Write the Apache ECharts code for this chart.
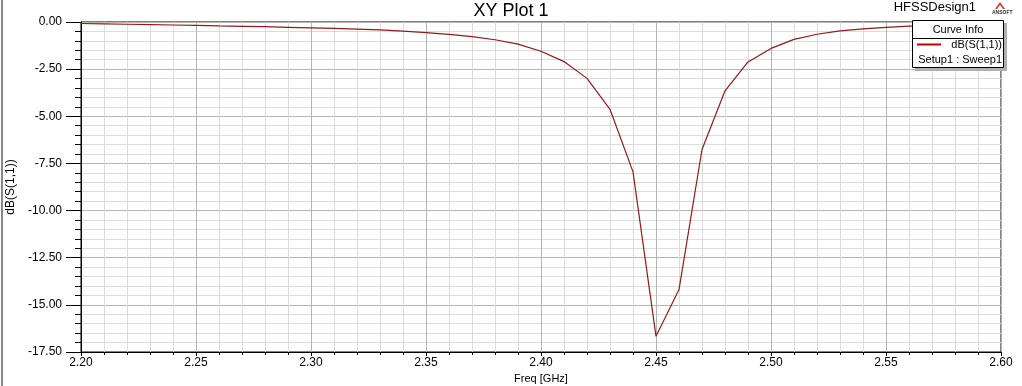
<!DOCTYPE html>
<html><head><meta charset="utf-8">
<script src="https://cdn.jsdelivr.net/npm/echarts@6/dist/echarts.min.js"></script>
<style>html,body{margin:0;padding:0;background:#fff}#c{width:1022px;height:386px}</style>
</head><body><div id="c"></div>
<script>
const freqs = [2.20,2.21,2.22,2.23,2.24,2.25,2.26,2.27,2.28,2.29,2.30,2.31,2.32,2.33,2.34,2.35,2.36,2.37,2.38,2.39,2.40,2.41,2.42,2.43,2.44,2.45,2.46,2.47,2.48,2.49,2.50,2.51,2.52,2.53,2.54,2.55,2.56,2.57,2.58,2.59,2.60];
const s11 = [-0.08,-0.10,-0.12,-0.14,-0.16,-0.18,-0.21,-0.23,-0.25,-0.28,-0.31,-0.34,-0.38,-0.42,-0.48,-0.56,-0.66,-0.78,-0.94,-1.17,-1.55,-2.10,-2.99,-4.63,-7.95,-16.67,-14.19,-6.76,-3.65,-2.12,-1.40,-0.92,-0.65,-0.47,-0.36,-0.28,-0.22,-0.18,-0.15,-0.12,-0.10];
const xTicks = {min: 2.20, max: 2.60, step: 0.05};
const yTicks = {min: -17.5, max: 0, step: 2.5};
const titleText = 'XY Plot 1';
const designText = 'HFSSDesign1';
const seriesName = 'dB(S(1,1))';
const setupText = 'Setup1 : Sweep1';

const FONT = 'Liberation Sans, Arial, sans-serif';
const chart = echarts.init(document.getElementById('c'), null, {renderer: 'canvas'});
const lineColor = '#8e1c1c';
chart.setOption({
  animation: false,
  backgroundColor: '#ffffff',
  title: {text: titleText, left: 'center', top: -3,
    textStyle: {fontFamily: FONT, fontSize: 18, fontWeight: 'normal', color: '#000'}},
  grid: {left: 81, right: 21, top: 22, bottom: 34, show: true, borderColor: '#000', borderWidth: 1,
    backgroundColor: '#fff', containLabel: false, outerBoundsMode: 'none'},
  xAxis: {
    type: 'value', min: xTicks.min, max: xTicks.max, interval: xTicks.step,
    name: 'Freq [GHz]', nameLocation: 'middle', nameGap: 16,
    nameTextStyle: {fontFamily: FONT, fontSize: 11, color: '#000'},
    axisLine: {show: true, onZero: false, lineStyle: {color: '#000', width: 1}},
    axisTick: {show: true, inside: false, length: 4, lineStyle: {color: '#000'}},
    minorTick: {show: true, splitNumber: 5, length: 3, lineStyle: {color: '#000'}},
    axisLabel: {fontFamily: FONT, fontSize: 12, color: '#000', margin: 5,
      formatter: v => v.toFixed(2)},
    splitLine: {show: true, lineStyle: {color: '#b4b4b4', width: 1}},
    minorSplitLine: {show: true, lineStyle: {color: '#dcdcdc', width: 1}}
  },
  yAxis: {
    type: 'value', min: yTicks.min, max: yTicks.max, interval: yTicks.step,
    name: 'dB(S(1,1))', nameLocation: 'middle', nameGap: 63, nameRotate: 90,
    nameTextStyle: {fontFamily: FONT, fontSize: 12, color: '#000'},
    axisLine: {show: true, onZero: false, lineStyle: {color: '#000', width: 1}},
    axisTick: {show: true, inside: false, length: 15, lineStyle: {color: '#000'}},
    minorTick: {show: true, splitNumber: 5, length: 6, lineStyle: {color: '#000'}},
    axisLabel: {fontFamily: FONT, fontSize: 12, color: '#000', margin: 19,
      formatter: v => v.toFixed(2)},
    splitLine: {show: true, lineStyle: {color: '#b4b4b4', width: 1}},
    minorSplitLine: {show: true, lineStyle: {color: '#dcdcdc', width: 1}}
  },
  series: [{
    name: seriesName, type: 'line', data: freqs.map((f, i) => [f, s11[i]]),
    showSymbol: false, symbol: 'none', smooth: false,
    lineStyle: {color: lineColor, width: 1.2}, z: 5
  }],
  graphic: [
    {type: 'line', shape: {x1: 2, y1: 0, x2: 2, y2: 386}, style: {stroke: '#888', lineWidth: 2}},
    {type: 'text', right: 46, top: 1, style: {text: designText, font: '13px ' + FONT, fill: '#000'}},
    {type: 'polygon', shape: {points: [[1000, 2], [995, 9], [1005, 9]]}, style: {fill: '#c84040'}},
    {type: 'polygon', shape: {points: [[1000, 5], [997, 9], [1003, 9]]}, style: {fill: '#fff'}},
    {type: 'text', left: 992, top: 10, style: {text: 'ANSOFT', font: 'bold 5px ' + FONT, fill: '#333'}},
    {type: 'rect', shape: {x: 915, y: 23, width: 92, height: 48}, style: {fill: '#b0b0b0'}, z: 10},
    {type: 'rect', shape: {x: 912.5, y: 20.5, width: 91, height: 47}, style: {fill: '#fff', stroke: '#000', lineWidth: 1}, z: 11},
    {type: 'line', shape: {x1: 912.5, y1: 38.5, x2: 1003.5, y2: 38.5}, style: {stroke: '#000', lineWidth: 1}, z: 12},
    {type: 'text', z: 12, style: {x: 958, y: 29.5, text: 'Curve Info', textAlign: 'center', textVerticalAlign: 'middle', font: '11px ' + FONT, fill: '#000'}},
    {type: 'line', z: 12, shape: {x1: 917, y1: 44.5, x2: 941, y2: 44.5}, style: {stroke: '#c00000', lineWidth: 2}},
    {type: 'text', z: 12, style: {x: 1002, y: 45, text: seriesName, textAlign: 'right', textVerticalAlign: 'middle', font: '11px ' + FONT, fill: '#000'}},
    {type: 'text', z: 12, style: {x: 1002, y: 59.5, text: setupText, textAlign: 'right', textVerticalAlign: 'middle', font: '11px ' + FONT, fill: '#000'}}
  ]
});
</script>
</body></html>
